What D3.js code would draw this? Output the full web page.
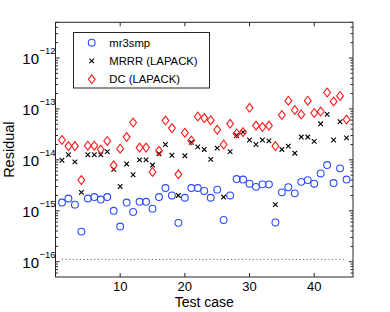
<!DOCTYPE html>
<html><head><meta charset="utf-8">
<script src="https://cdn.jsdelivr.net/npm/d3@7"></script>
<style>html,body{margin:0;padding:0;background:#fff}svg{display:block}</style>
</head><body>
<svg id="chart" width="390" height="312"></svg>
<script>
const testCases = d3.range(1, 46);
const mr3smp = [1.45e-15,1.74e-15,1.32e-15,3.9e-16,1.74e-15,1.86e-15,1.66e-15,1.86e-15,1.0e-15,4.9e-16,
  1.45e-15,9.5e-16,1.5e-15,1.5e-15,1.1e-15,1.86e-15,2.8e-15,2.0e-15,5.8e-16,1.8e-15,
  2.8e-15,2.8e-15,2.45e-15,1.8e-15,2.6e-15,6.6e-16,2.0e-15,4.2e-15,4.1e-15,3.4e-15,
  2.95e-15,3.3e-15,3.3e-15,5.9e-16,2.3e-15,2.9e-15,2.2e-15,3.7e-15,4.0e-15,3.4e-15,
  5.4e-15,7.9e-15,3.5e-15,6.8e-15,4.1e-15];
const mrrr = [9.8e-15,1.26e-14,9.1e-15,2.3e-15,1.26e-14,1.26e-14,1.26e-14,1.45e-14,6.5e-15,3.0e-15,
  8.3e-15,5.1e-15,1.0e-14,1.0e-14,7.9e-15,1.32e-14,2.0e-14,1.23e-14,2.0e-15,1.2e-14,
  2.2e-14,1.8e-14,1.6e-14,1.02e-14,1.7e-14,1.86e-15,1.45e-14,3.0e-14,3.5e-14,2.45e-14,
  2.0e-14,2.45e-14,2.35e-14,1.32e-15,1.6e-14,1.86e-14,1.35e-14,2.8e-14,2.8e-14,2.3e-14,
  5.1e-14,7.8e-14,2.45e-14,5.6e-14,2.7e-14];
const dc = [2.45e-14,1.86e-14,1.86e-14,4.0e-15,1.9e-14,1.9e-14,1.6e-14,2.35e-14,7.8e-15,1.66e-14,
  2.8e-14,5.4e-14,1.74e-14,1.74e-14,5.8e-15,1.5e-14,5.9e-14,4.2e-14,5.2e-15,3.4e-14,
  2.4e-14,7.1e-14,6.6e-14,6.0e-14,3.9e-14,2.0e-14,5.1e-14,3.3e-14,3.5e-14,1.05e-13,
  4.7e-14,4.4e-14,4.7e-14,1.86e-14,7.6e-14,1.45e-13,9.5e-14,7.8e-14,1.45e-13,8.3e-14,
  8.9e-14,2.1e-13,1.4e-13,1.8e-13,6.2e-14];
const epsLine = 1.11e-16;
const xTicks = [10, 20, 30, 40];
const yTickExps = [-16, -15, -14, -13, -12];
const seriesNames = ["mr3smp", "MRRR (LAPACK)", "DC (LAPACK)"];

const svg = d3.select("#chart");
const L = 55.5, R = 353, T = 22.3, B = 277;
const x = d3.scaleLinear().domain([0, 46]).range([L, R]);
const y = d3.scaleLog().domain([Math.pow(10, -16.3), Math.pow(10, -11.3)]).range([B, T]);
const font = "'Liberation Sans', Arial, Helvetica, sans-serif";
const axisColor = "#262626";

// dotted eps line
svg.append("line")
  .attr("x1", x(1)).attr("x2", x(45))
  .attr("y1", y(epsLine)).attr("y2", y(epsLine))
  .attr("stroke", "#555").attr("stroke-width", 1).attr("stroke-dasharray", "1,2.6");

// markers
const gData = svg.append("g");
gData.selectAll("circle.m").data(mr3smp).join("circle")
  .attr("cx", (d, i) => x(testCases[i])).attr("cy", d => y(d)).attr("r", 3.4)
  .attr("fill", "none").attr("stroke", "#2b4cff").attr("stroke-width", 1.1);
const xs = 2.3;
gData.selectAll("path.x").data(mrrr).join("path")
  .attr("d", (d, i) => {
    const cx = x(testCases[i]), cy = y(d);
    return `M${cx - xs},${cy - xs}L${cx + xs},${cy + xs}M${cx - xs},${cy + xs}L${cx + xs},${cy - xs}`;
  })
  .attr("stroke", "#000").attr("stroke-width", 1.1).attr("fill", "none");
const dw = 3.4, dh = 4.4;
gData.selectAll("path.d").data(dc).join("path")
  .attr("d", (d, i) => {
    const cx = x(testCases[i]), cy = y(d);
    return `M${cx},${cy - dh}L${cx + dw},${cy}L${cx},${cy + dh}L${cx - dw},${cy}Z`;
  })
  .attr("stroke", "#ff1a1a").attr("stroke-width", 1.1).attr("fill", "none");

// axes frame
const gAx = svg.append("g");
gAx.append("rect").attr("x", L).attr("y", T).attr("width", R - L).attr("height", B - T)
  .attr("fill", "none").attr("stroke", axisColor).attr("stroke-width", 1);

// x ticks (bottom & top, inward)
xTicks.forEach(t => {
  const px = x(t);
  gAx.append("line").attr("x1", px).attr("x2", px).attr("y1", B).attr("y2", B - 4).attr("stroke", axisColor);
  gAx.append("line").attr("x1", px).attr("x2", px).attr("y1", T).attr("y2", T + 4).attr("stroke", axisColor);
  svg.append("text").attr("x", px).attr("y", 291).attr("text-anchor", "middle")
    .attr("font-family", font).attr("font-size", 13).attr("fill", "#000").text(t);
});

// y ticks: major and minor (log)
const [d0, d1] = y.domain();
for (let e = -17; e <= -11; e++) {
  for (let m = 1; m <= 9; m++) {
    const v = m * Math.pow(10, e);
    if (v < d0 || v > d1) continue;
    const py = y(v);
    const len = m === 1 ? 4 : 2.5;
    gAx.append("line").attr("x1", L).attr("x2", L + len).attr("y1", py).attr("y2", py).attr("stroke", axisColor);
    gAx.append("line").attr("x1", R).attr("x2", R - len).attr("y1", py).attr("y2", py).attr("stroke", axisColor);
  }
}
yTickExps.forEach(e => {
  const py = y(Math.pow(10, e));
  svg.append("text").attr("x", 39).attr("y", py + 6).attr("text-anchor", "end")
    .attr("font-family", font).attr("font-size", 15).attr("fill", "#000").text("10");
  svg.append("text").attr("x", 39.5).attr("y", py - 3.5)
    .attr("font-family", font).attr("font-size", 9.5).attr("fill", "#000").text("\u2212" + (-e));
});

// axis labels
svg.append("text").attr("x", (L + R) / 2).attr("y", 307).attr("text-anchor", "middle")
  .attr("font-family", font).attr("font-size", 14).attr("fill", "#000").text("Test case");
svg.append("text").attr("transform", `translate(14,${(T + B) / 2}) rotate(-90)`)
  .attr("text-anchor", "middle").attr("font-family", font).attr("font-size", 14.5).attr("fill", "#000").text("Residual");

// legend
const lg = svg.append("g");
lg.append("rect").attr("x", 73.5).attr("y", 32.5).attr("width", 136).attr("height", 55.5)
  .attr("fill", "#fff").attr("stroke", axisColor).attr("stroke-width", 1);
const rowsY = [42.7, 60.9, 79.3];
const mx = 91.7;
lg.append("circle").attr("cx", mx).attr("cy", rowsY[0]).attr("r", 3.4)
  .attr("fill", "none").attr("stroke", "#2b4cff").attr("stroke-width", 1.1);
lg.append("path").attr("d", `M${mx - xs},${rowsY[1] - xs}L${mx + xs},${rowsY[1] + xs}M${mx - xs},${rowsY[1] + xs}L${mx + xs},${rowsY[1] - xs}`)
  .attr("stroke", "#000").attr("stroke-width", 1.1);
lg.append("path").attr("d", `M${mx},${rowsY[2] - dh}L${mx + dw},${rowsY[2]}L${mx},${rowsY[2] + dh}L${mx - dw},${rowsY[2]}Z`)
  .attr("stroke", "#ff1a1a").attr("stroke-width", 1.1).attr("fill", "none");
seriesNames.forEach((n, i) => {
  lg.append("text").attr("x", 109.3).attr("y", rowsY[i] + 4).attr("font-family", font)
    .attr("font-size", 11.3).attr("fill", "#000").text(n);
});
</script>
</body></html>
